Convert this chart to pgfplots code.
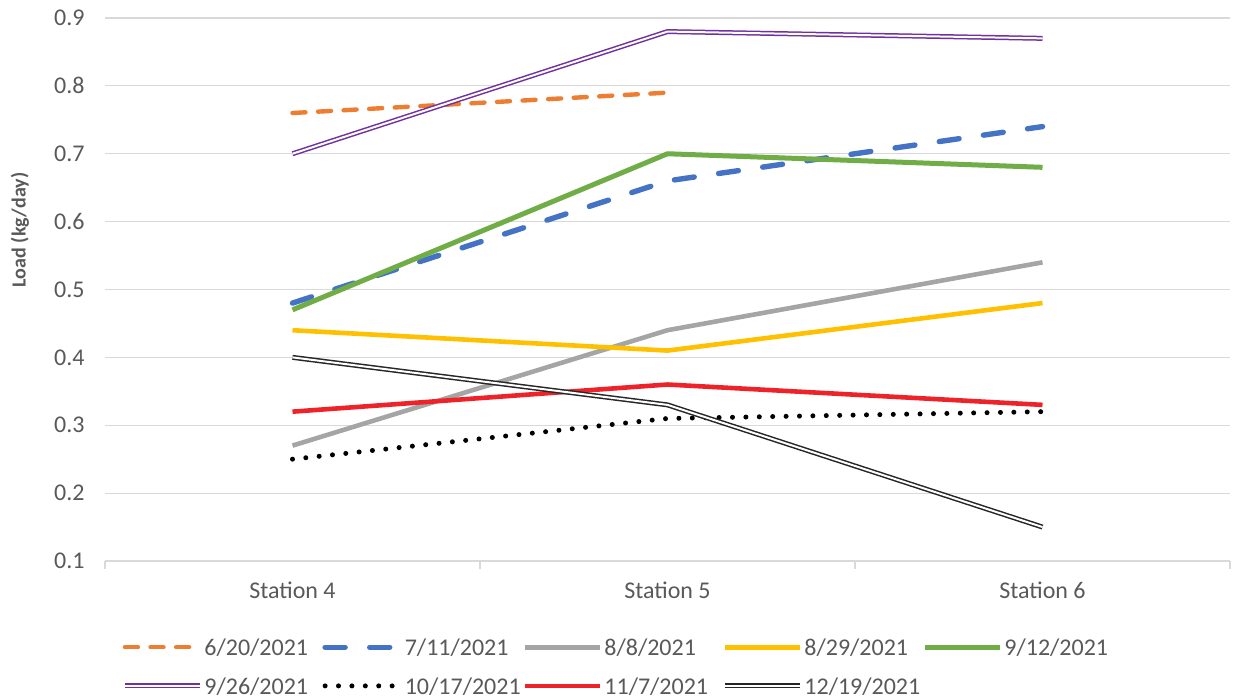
\documentclass[border=0pt]{standalone}
\usepackage{pgfplots}
\pgfplotsset{compat=1.18}
\usepackage{fontspec}
\setmainfont{Carlito}
\definecolor{txt}{HTML}{595959}
\definecolor{gridc}{HTML}{D9D9D9}
\definecolor{c1}{HTML}{ED7D31}
\definecolor{c2}{HTML}{4472C4}
\definecolor{c3}{HTML}{A5A5A5}
\definecolor{c4}{HTML}{FFC000}
\definecolor{c5}{HTML}{70AD47}
\definecolor{c6}{HTML}{7030A0}
\definecolor{c8}{HTML}{EE2229}
\newcommand{\lgx}[1]{\makebox[59pt][l]{\strut #1}}
\begin{document}
\begin{tikzpicture}
\begin{axis}[
  at={(52.5pt,69.5pt)}, anchor=south west,
  scale only axis, width=562.5pt, height=271.5pt,
  xmin=-0.5, xmax=2.5, ymin=0.1, ymax=0.9,
  xtick={0,1,2}, xticklabels={Station 4,\raisebox{-1.5pt}{Station 5},Station 6},
  ytick={0.1,0.2,...,0.9},
  yticklabel style={/pgf/number format/fixed, /pgf/number format/fixed zerofill, /pgf/number format/precision=1},
  /pgf/number format/assume math mode=true,
  major tick length=0pt,
  extra x ticks={-0.5,0.5,1.5,2.5}, extra x tick labels={},
  extra x tick style={major tick length=4pt, tick align=outside, tick style={draw=gridc, line width=0.6pt}, grid=none},
  axis x line*=bottom, axis y line*=left,
  y axis line style={draw=none},
  x axis line style={draw=gridc, line width=0.7pt},
  ymajorgrids, grid style={draw=gridc, line width=0.6pt},
  tick label style={font=\fontsize{12}{14}\selectfont, text=txt},
  yticklabel style={inner sep=0pt, xshift=-10pt, anchor=east},
  xticklabel style={inner sep=0pt, anchor=center, yshift=-14.5pt},
  ylabel={\bfseries Load (kg/day)},
  ylabel style={font=\fontsize{10}{12}\selectfont, text=txt, at={(axis description cs:-0.0756,0.6096)}, anchor=center, rotate=0},
  legend columns=5,
  legend style={at={(axis description cs:0.0098,-0.13)}, anchor=north west, draw=none, fill=none,
    font=\fontsize{12}{14}\selectfont, text=txt,
    nodes={inner sep=0pt}, column sep=0pt, row sep=8pt,
    /tikz/every odd column/.append style={column sep=1pt}},
  legend cell align=left,
  legend image code/.code={\draw[#1] (0pt,0pt) -- (37.5pt,0pt);},
  every axis plot/.append style={line join=round},
]
\addplot[c1, line width=2.2pt, line cap=round, dash pattern=on 6.5pt off 6.3pt] coordinates {(0,0.76) (1,0.79)};
\addlegendentry{\lgx{6/20/2021}}
\addplot[c2, line width=2.7pt, line cap=round, dash pattern=on 10pt off 12.3pt] coordinates {(0,0.48) (1,0.66) (2,0.74)};
\addlegendentry{\lgx{7/11/2021}}
\addplot[c3, line width=2.3pt] coordinates {(0,0.27) (1,0.44) (2,0.54)};
\addlegendentry{\lgx{8/8/2021}}
\addplot[c4, line width=2.3pt] coordinates {(0,0.44) (1,0.41) (2,0.48)};
\addlegendentry{\lgx{8/29/2021}}
\addplot[c5, line width=2.5pt] coordinates {(0,0.47) (1,0.70) (2,0.68)};
\addlegendentry{\lgx{9/12/2021}}
\addplot[c6, line width=0.75pt, double=white, double distance=1pt] coordinates {(0,0.70) (1,0.88) (2,0.87)};
\addlegendentry{\lgx{9/26/2021}}
\addplot[black, line width=2.5pt, line cap=round, dash pattern=on 0pt off 6.7pt] coordinates {(0,0.25) (1,0.31) (2,0.32)};
\addlegendentry{\lgx{10/17/2021}}
\addplot[c8, line width=2.3pt] coordinates {(0,0.32) (1,0.36) (2,0.33)};
\addlegendentry{\lgx{11/7/2021}}
\addplot[black!85, line width=0.75pt, double=white, double distance=1pt] coordinates {(0,0.40) (1,0.33) (2,0.15)};
\addlegendentry{\lgx{12/19/2021}}
\end{axis}
\pgfresetboundingbox
\path (0,0) rectangle (617.5pt,350pt);
\end{tikzpicture}
\end{document}
